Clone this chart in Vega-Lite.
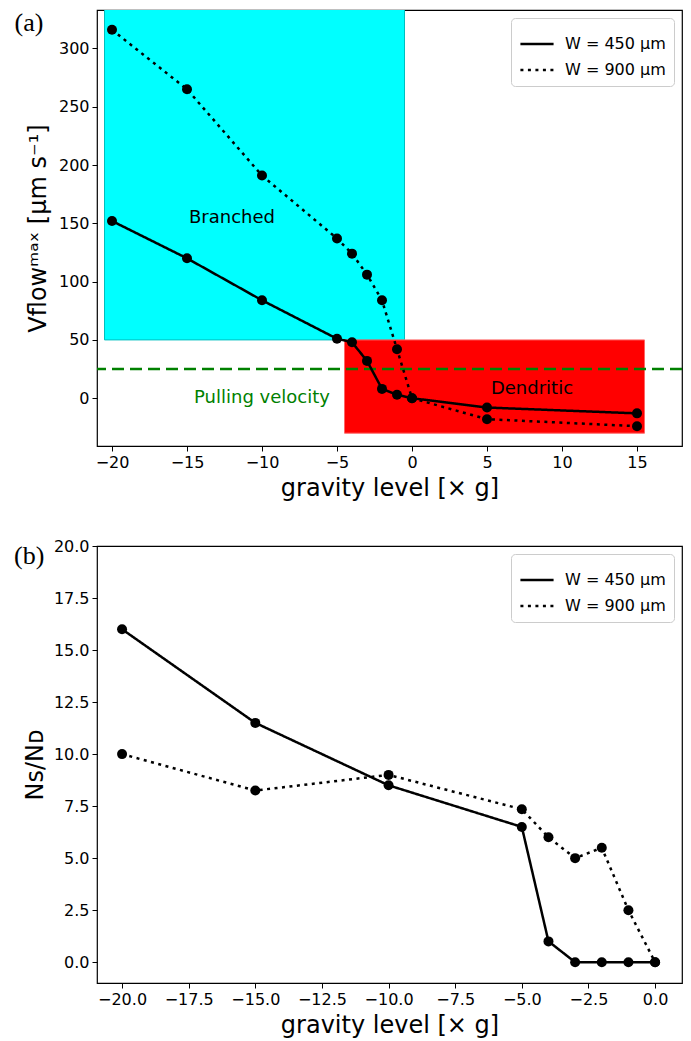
{
  "$schema": "https://vega.github.io/schema/vega-lite/v6.json",
  "background": "white",
  "padding": {"left": 13, "top": 9, "right": 10, "bottom": 5},
  "spacing": 100,
  "bounds": "flush",
  "resolve": {"scale": {"strokeDash": "independent"}, "legend": {"strokeDash": "independent"}},
  "datasets": {
    "velocity": [
      {"g": -20, "v": 152, "W": "W = 450 μm"},
      {"g": -15, "v": 120, "W": "W = 450 μm"},
      {"g": -10, "v": 84, "W": "W = 450 μm"},
      {"g": -5, "v": 51, "W": "W = 450 μm"},
      {"g": -4, "v": 48, "W": "W = 450 μm"},
      {"g": -3, "v": 32, "W": "W = 450 μm"},
      {"g": -2, "v": 8, "W": "W = 450 μm"},
      {"g": -1, "v": 3, "W": "W = 450 μm"},
      {"g": 0, "v": 0, "W": "W = 450 μm"},
      {"g": 5, "v": -8, "W": "W = 450 μm"},
      {"g": 15, "v": -13, "W": "W = 450 μm"},
      {"g": -20, "v": 316, "W": "W = 900 μm"},
      {"g": -15, "v": 265, "W": "W = 900 μm"},
      {"g": -10, "v": 191, "W": "W = 900 μm"},
      {"g": -5, "v": 137, "W": "W = 900 μm"},
      {"g": -4, "v": 124, "W": "W = 900 μm"},
      {"g": -3, "v": 106, "W": "W = 900 μm"},
      {"g": -2, "v": 84, "W": "W = 900 μm"},
      {"g": -1, "v": 42, "W": "W = 900 μm"},
      {"g": 0, "v": 0, "W": "W = 900 μm"},
      {"g": 5, "v": -18, "W": "W = 900 μm"},
      {"g": 15, "v": -24, "W": "W = 900 μm"}
    ],
    "ratio": [
      {"g": -20, "r": 16, "W": "W = 450 μm"},
      {"g": -15, "r": 11.5, "W": "W = 450 μm"},
      {"g": -10, "r": 8.5, "W": "W = 450 μm"},
      {"g": -5, "r": 6.5, "W": "W = 450 μm"},
      {"g": -4, "r": 1, "W": "W = 450 μm"},
      {"g": -3, "r": 0, "W": "W = 450 μm"},
      {"g": -2, "r": 0, "W": "W = 450 μm"},
      {"g": -1, "r": 0, "W": "W = 450 μm"},
      {"g": 0, "r": 0, "W": "W = 450 μm"},
      {"g": -20, "r": 10, "W": "W = 900 μm"},
      {"g": -15, "r": 8.25, "W": "W = 900 μm"},
      {"g": -10, "r": 9, "W": "W = 900 μm"},
      {"g": -5, "r": 7.35, "W": "W = 900 μm"},
      {"g": -4, "r": 6, "W": "W = 900 μm"},
      {"g": -3, "r": 5, "W": "W = 900 μm"},
      {"g": -2, "r": 5.5, "W": "W = 900 μm"},
      {"g": -1, "r": 2.5, "W": "W = 900 μm"},
      {"g": 0, "r": 0, "W": "W = 900 μm"}
    ]
  },
  "config": {
    "font": "DejaVu Sans",
    "view": {"stroke": "#000", "strokeWidth": 1.2},
    "axis": {
      "domain": false, "grid": false,
      "tickColor": "#000", "tickSize": 5, "tickWidth": 1,
      "labelColor": "#000", "labelFontSize": 16, "labelFont": "DejaVu Sans", "labelPadding": 3,
      "titleFont": "DejaVu Sans", "titleFontSize": 24, "titleFontWeight": "normal", "titleColor": "#000"
    },
    "legend": {
      "orient": "top-right", "offset": 8,
      "fillColor": "white", "strokeColor": "#cccccc", "cornerRadius": 4, "padding": 8,
      "labelFontSize": 16, "labelFont": "DejaVu Sans", "labelColor": "#000", "labelOffset": 10,
      "symbolType": "stroke", "symbolStrokeWidth": 2.5, "symbolStrokeColor": "#000",
      "symbolSize": 1100, "rowPadding": 0
    }
  },
  "vconcat": [
    {
      "width": 585,
      "height": 436,
      "layer": [
        {
          "data": {"values": [{"region": "Branched", "g0": -20.5, "g1": -0.5, "v0": 50, "v1": 400}]},
          "mark": {"type": "rect", "fill": "#00FFFF", "stroke": "#00BFBF", "strokeWidth": 1, "clip": true},
          "encoding": {
            "x": {"field": "g0", "type": "quantitative", "scale": {"domain": [-21, 18], "nice": false, "zero": false},
                  "axis": {"values": [-20, -15, -10, -5, 0, 5, 10, 15], "title": "gravity level [× g]", "titlePadding": 6}},
            "x2": {"field": "g1"},
            "y": {"field": "v0", "type": "quantitative", "scale": {"domain": [-41, 333], "nice": false, "zero": false},
                  "axis": {"values": [0, 50, 100, 150, 200, 250, 300], "title": "Vflowᵐᵃˣ [μm s⁻¹]", "titlePadding": 8}},
            "y2": {"field": "v1"}
          }
        },
        {
          "data": {"values": [{"region": "Dendritic", "g0": -4.5, "g1": 15.5, "v0": -30, "v1": 50}]},
          "mark": {"type": "rect", "fill": "#FF0000", "stroke": "#FF6666", "strokeWidth": 1},
          "encoding": {
            "x": {"field": "g0", "type": "quantitative", "axis": {"title": "gravity level [× g]"}},
            "x2": {"field": "g1"},
            "y": {"field": "v0", "type": "quantitative", "axis": {"title": "Vflowᵐᵃˣ [μm s⁻¹]"}},
            "y2": {"field": "v1"}
          }
        },
        {
          "data": {"values": [{"v": 25}]},
          "mark": {"type": "rule", "color": "#008000", "strokeWidth": 2.5, "strokeDash": [12, 6]},
          "encoding": {
            "y": {"field": "v", "type": "quantitative", "axis": {"title": "Vflowᵐᵃˣ [μm s⁻¹]"}}
          }
        },
        {
          "data": {"values": [{"label": "Branched", "g": -12, "v": 155}, {"label": "Dendritic", "g": 8, "v": 8}]},
          "mark": {"type": "text", "fontSize": 18, "color": "#000", "font": "DejaVu Sans"},
          "encoding": {
            "x": {"field": "g", "type": "quantitative", "axis": {"title": "gravity level [× g]"}},
            "y": {"field": "v", "type": "quantitative", "axis": {"title": "Vflowᵐᵃˣ [μm s⁻¹]"}},
            "text": {"field": "label"}
          }
        },
        {
          "data": {"values": [{"label": "Pulling velocity", "g": -10, "v": 0.5}]},
          "mark": {"type": "text", "fontSize": 18, "color": "#008000", "font": "DejaVu Sans"},
          "encoding": {
            "x": {"field": "g", "type": "quantitative", "axis": {"title": "gravity level [× g]"}},
            "y": {"field": "v", "type": "quantitative", "axis": {"title": "Vflowᵐᵃˣ [μm s⁻¹]"}},
            "text": {"field": "label"}
          }
        },
        {
          "data": {"values": [{"label": "(a)", "g": -26.5, "v": 315}]},
          "mark": {"type": "text", "fontSize": 26, "color": "#000", "font": "Liberation Serif", "align": "left", "baseline": "alphabetic"},
          "encoding": {
            "x": {"field": "g", "type": "quantitative", "axis": {"title": "gravity level [× g]"}},
            "y": {"field": "v", "type": "quantitative", "axis": {"title": "Vflowᵐᵃˣ [μm s⁻¹]"}},
            "text": {"field": "label"}
          }
        },
        {
          "data": {"name": "velocity"},
          "mark": {"type": "line", "color": "#000", "strokeWidth": 2.5},
          "encoding": {
            "x": {"field": "g", "type": "quantitative", "axis": {"title": "gravity level [× g]"}},
            "y": {"field": "v", "type": "quantitative", "axis": {"title": "Vflowᵐᵃˣ [μm s⁻¹]"}},
            "strokeDash": {"field": "W", "type": "nominal", "scale": {"domain": ["W = 450 μm", "W = 900 μm"], "range": [[1, 0], [3, 4.5]]}, "legend": {"title": null}}
          }
        },
        {
          "data": {"name": "velocity"},
          "mark": {"type": "point", "filled": true, "color": "#000", "size": 100, "opacity": 1},
          "encoding": {
            "x": {"field": "g", "type": "quantitative", "axis": {"title": "gravity level [× g]"}},
            "y": {"field": "v", "type": "quantitative", "axis": {"title": "Vflowᵐᵃˣ [μm s⁻¹]"}},
            "detail": {"field": "W"}
          }
        }
      ]
    },
    {
      "width": 585,
      "height": 437,
      "layer": [
        {
          "data": {"name": "ratio"},
          "mark": {"type": "line", "color": "#000", "strokeWidth": 2.5},
          "encoding": {
            "x": {"field": "g", "type": "quantitative", "scale": {"domain": [-20.94, 1.01], "nice": false, "zero": false},
                  "axis": {"values": [-20, -17.5, -15, -12.5, -10, -7.5, -5, -2.5, 0], "format": ".1f", "title": "gravity level [× g]", "titlePadding": 6}},
            "y": {"field": "r", "type": "quantitative", "scale": {"domain": [-1, 20], "nice": false, "zero": false},
                  "axis": {"values": [0, 2.5, 5, 7.5, 10, 12.5, 15, 17.5, 20], "format": ".1f", "title": "Nꜱ/Nᴅ", "titlePadding": 6}},
            "strokeDash": {"field": "W", "type": "nominal", "scale": {"domain": ["W = 450 μm", "W = 900 μm"], "range": [[1, 0], [3, 4.5]]}, "legend": {"title": null}}
          }
        },
        {
          "data": {"name": "ratio"},
          "mark": {"type": "point", "filled": true, "color": "#000", "size": 100, "opacity": 1},
          "encoding": {
            "x": {"field": "g", "type": "quantitative"},
            "y": {"field": "r", "type": "quantitative"},
            "detail": {"field": "W"}
          }
        },
        {
          "data": {"values": [{"label": "(b)", "g": -24.05, "r": 19.15}]},
          "mark": {"type": "text", "fontSize": 26, "color": "#000", "font": "Liberation Serif", "align": "left", "baseline": "alphabetic"},
          "encoding": {
            "x": {"field": "g", "type": "quantitative"},
            "y": {"field": "r", "type": "quantitative"},
            "text": {"field": "label"}
          }
        }
      ]
    }
  ]
}
